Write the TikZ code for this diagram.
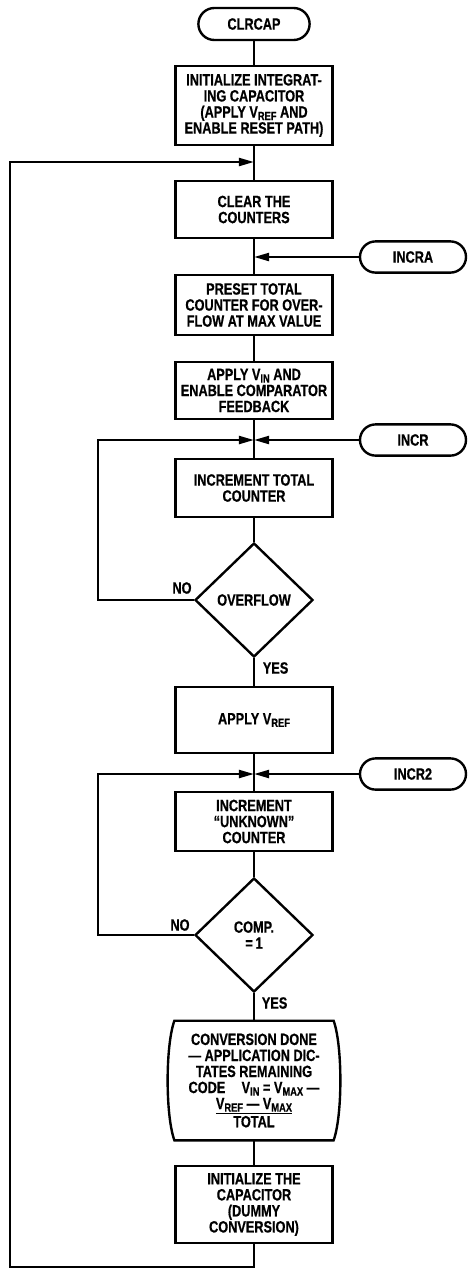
\documentclass[tikz,border=0pt]{standalone}
\usepackage{fontspec}
\setmainfont[FakeStretch=0.78,FakeBold=0.6]{Liberation Sans Bold}
\usetikzlibrary{shapes.geometric,arrows.meta}
\newcommand{\vsub}[1]{\raisebox{-0.3ex}{\fontsize{8.5}{8.5}\selectfont #1}}

\begin{document}
\begin{tikzpicture}[x=0.025cm,y=-0.025cm,line width=1.7pt,
  every node/.style={font=\fontsize{11.6}{11.4}\selectfont,align=center},
  box/.style={draw,minimum width=3.92cm,inner sep=1pt},
  term/.style={draw,rounded corners=0.39cm,minimum height=0.78cm,minimum width=2.65cm},
  dec/.style={draw,diamond,minimum width=2.95cm,minimum height=2.85cm,inner sep=0pt},
  arr/.style={-{Triangle[length=0.38cm,width=0.2cm]}}]
\path[use as bounding box] (0,0) rectangle (474,1271);
\node[term,minimum width=2.78cm,minimum height=0.8cm,rounded corners=0.4cm] (clrcap) at (254,24) {CLRCAP};
\node[box,minimum height=1.98cm] (init) at (254,105.5) {INITIALIZE INTEGRAT-\\ING CAPACITOR\\(APPLY V\vsub{REF} AND\\ENABLE RESET PATH)};
\node[box,minimum height=1.43cm] (clear) at (254,209.5) {CLEAR THE\\COUNTERS};
\node[box,minimum height=1.5cm] (preset) at (254,305) {PRESET TOTAL\\COUNTER FOR OVER-\\FLOW AT MAX VALUE};
\node[box,minimum height=1.43cm] (applyvin) at (254,390.5) {APPLY V\vsub{IN} AND\\ENABLE COMPARATOR\\FEEDBACK};
\node[box,minimum height=1.45cm] (inctotal) at (254,488) {INCREMENT TOTAL\\COUNTER};
\node[dec] (overflow) at (254,600) {OVERFLOW};
\node[box,minimum height=1.65cm] (applyvref) at (254,720) {APPLY V\vsub{REF}};
\node[box,minimum height=1.48cm] (incunk) at (254,821.5) {INCREMENT\\“UNKNOWN”\\COUNTER};
\node[dec] (comp) at (254,935) {COMP.\\=\,1};
\node[minimum width=3.92cm,minimum height=2.93cm,inner sep=1pt] (done) at (254,1080.5) {CONVERSION DONE\\— APPLICATION DIC-\\TATES REMAINING\\CODE\quad V\vsub{IN} = V\vsub{MAX} —\\\underline{V\vsub{REF} — V\vsub{MAX}}\\TOTAL};
\draw (done.north west) -- (done.north east) .. controls +(9,25) and +(9,-25) .. (done.south east) -- (done.south west) .. controls +(-9,-25) and +(-9,25) .. cycle;
\node[box,minimum height=1.93cm] (initcap) at (254,1204.5) {INITIALIZE THE\\CAPACITOR\\(DUMMY\\CONVERSION)};
% entry points
\node[term] (incra) at (413,257) {INCRA};
\node[term] (incr) at (413,440) {INCR};
\node[term] (incr2) at (413,774) {INCR2};
\coordinate (j1) at (254,162);
\coordinate (j2) at (254,257);
\coordinate (j3) at (254,440);
\coordinate (j4) at (254,774);
\coordinate (nobend1) at (98,440);
\coordinate (nobend2) at (98,774);
\coordinate (retbend) at (10,1267);
% main column
\draw (clrcap) -- (init);
\draw (init) -- (clear);
\draw (clear) -- (preset);
\draw (preset) -- (applyvin);
\draw (applyvin) -- (inctotal);
\draw (inctotal) -- (overflow);
\draw (overflow) -- (applyvref);
\draw (applyvref) -- (incunk);
\draw (incunk) -- (comp);
\draw (comp) -- (done);
\draw (done) -- (initcap);
% loops
\draw[arr] (initcap) |- (retbend) |- (j1);
\draw[arr] (incra) -- (j2);
\draw[arr] (incr) -- (j3);
\draw[arr] (overflow) -| (nobend1) -- (j3);
\draw[arr] (incr2) -- (j4);
\draw[arr] (comp) -| (nobend2) -- (j4);
\node (no1) at (182,588) {NO};
\node[anchor=west] (yes1) at (257,668) {YES};
\node (no2) at (180,925) {NO};
\node[anchor=west] (yes2) at (256,1003) {YES};
\end{tikzpicture}
\end{document}
